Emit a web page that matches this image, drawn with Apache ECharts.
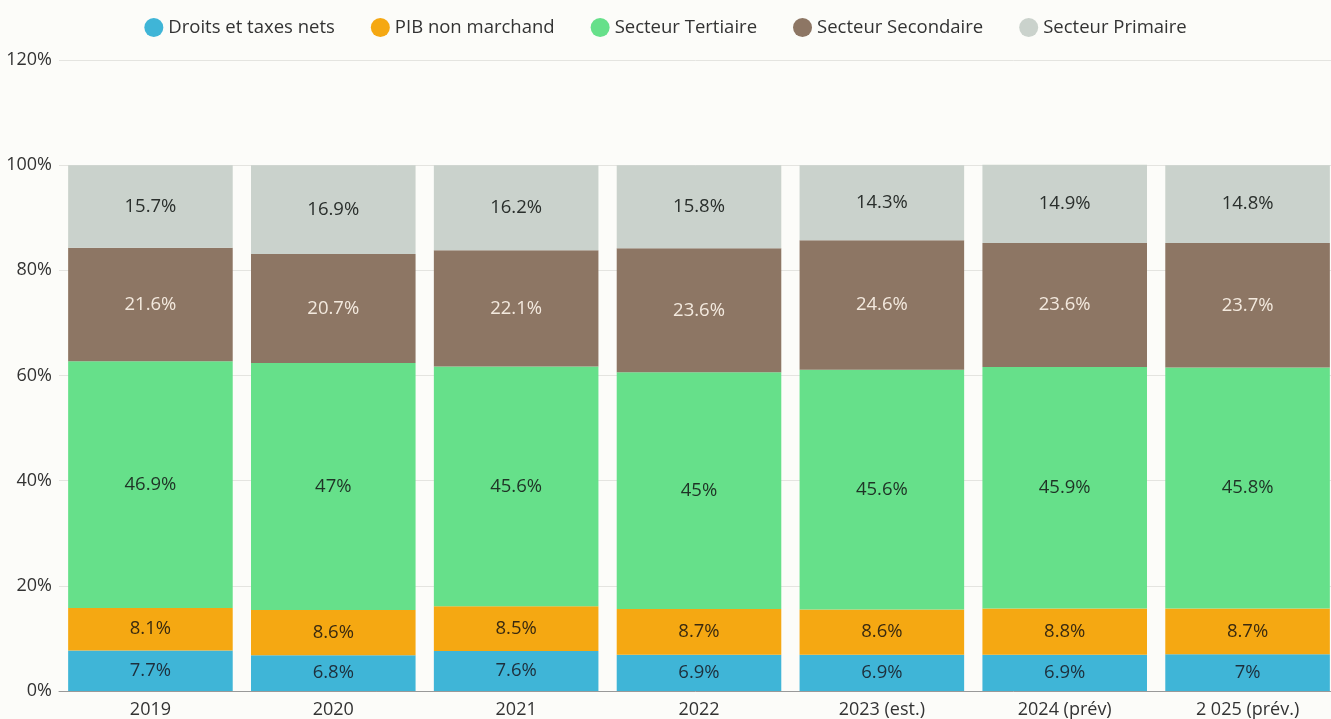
<!DOCTYPE html>
<html>
<head>
<meta charset="utf-8">
<script src="https://cdn.jsdelivr.net/npm/echarts@6/dist/echarts.min.js"></script>
<style>
  html, body { margin: 0; padding: 0; background: #fcfcf9; }
  #chart { width: 1331px; height: 719px; }
</style>
</head>
<body>
<div id="chart"></div>
<script>
// données
var years = ['2019', '2020', '2021', '2022', '2023 (est.)', '2024 (prév)', '2 025 (prév.)'];
var droits = [7.7, 6.8, 7.6, 6.9, 6.9, 6.9, 7];
var pibNonMarchand = [8.1, 8.6, 8.5, 8.7, 8.6, 8.8, 8.7];
var tertiaire = [46.9, 47, 45.6, 45, 45.6, 45.9, 45.8];
var secondaire = [21.6, 20.7, 22.1, 23.6, 24.6, 23.6, 23.7];
var primaire = [15.7, 16.9, 16.2, 15.8, 14.3, 14.9, 14.8];
var yTicks = [0, 20, 40, 60, 80, 100, 120];

var font = '"Open Sans", "Noto Sans", sans-serif';

function serie(name, data, color, labelColor) {
  return {
    name: name,
    type: 'bar',
    stack: 'total',
    data: data,
    barWidth: '90%',
    itemStyle: { color: color },
    label: {
      show: true,
      position: 'inside',
      formatter: '{c}%',
      color: labelColor,
      fontSize: 18.5,
      fontFamily: font
    }
  };
}

var chart = echarts.init(document.getElementById('chart'));
chart.setOption({
  backgroundColor: '#fcfcf9',
  animation: false,
  legend: {
    top: 13,
    left: 'center',
    icon: 'circle',
    itemWidth: 19,
    itemHeight: 19,
    itemGap: 36,
    textStyle: { fontSize: 18.5, color: '#333', fontFamily: font }
  },
  grid: {
    left: 59,
    top: 60,
    width: 1280,
    bottom: 28,
    containLabel: false,
    outerBoundsMode: 'none'
  },
  xAxis: {
    type: 'category',
    data: years,
    axisTick: { show: false },
    axisLine: { lineStyle: { color: '#999' } },
    axisLabel: { fontSize: 18, color: '#333', fontFamily: font, margin: 10 }
  },
  yAxis: {
    type: 'value',
    min: yTicks[0],
    max: yTicks[yTicks.length - 1],
    interval: 20,
    axisLabel: {
      formatter: '{value}%',
      fontSize: 18,
      color: '#333',
      fontFamily: font,
      margin: 7
    },
    splitLine: { lineStyle: { color: '#e4e4e0' } }
  },
  series: [
    serie('Droits et taxes nets', droits, '#3fb5d7', '#1e2f3c'),
    serie('PIB non marchand', pibNonMarchand, '#f5a812', '#3a2a10'),
    serie('Secteur Tertiaire', tertiaire, '#66e08a', '#1f3326'),
    serie('Secteur Secondaire', secondaire, '#8d7664', '#f3e9de'),
    serie('Secteur Primaire', primaire, '#cad2cc', '#2a2f2c')
  ]
});
</script>
</body>
</html>
